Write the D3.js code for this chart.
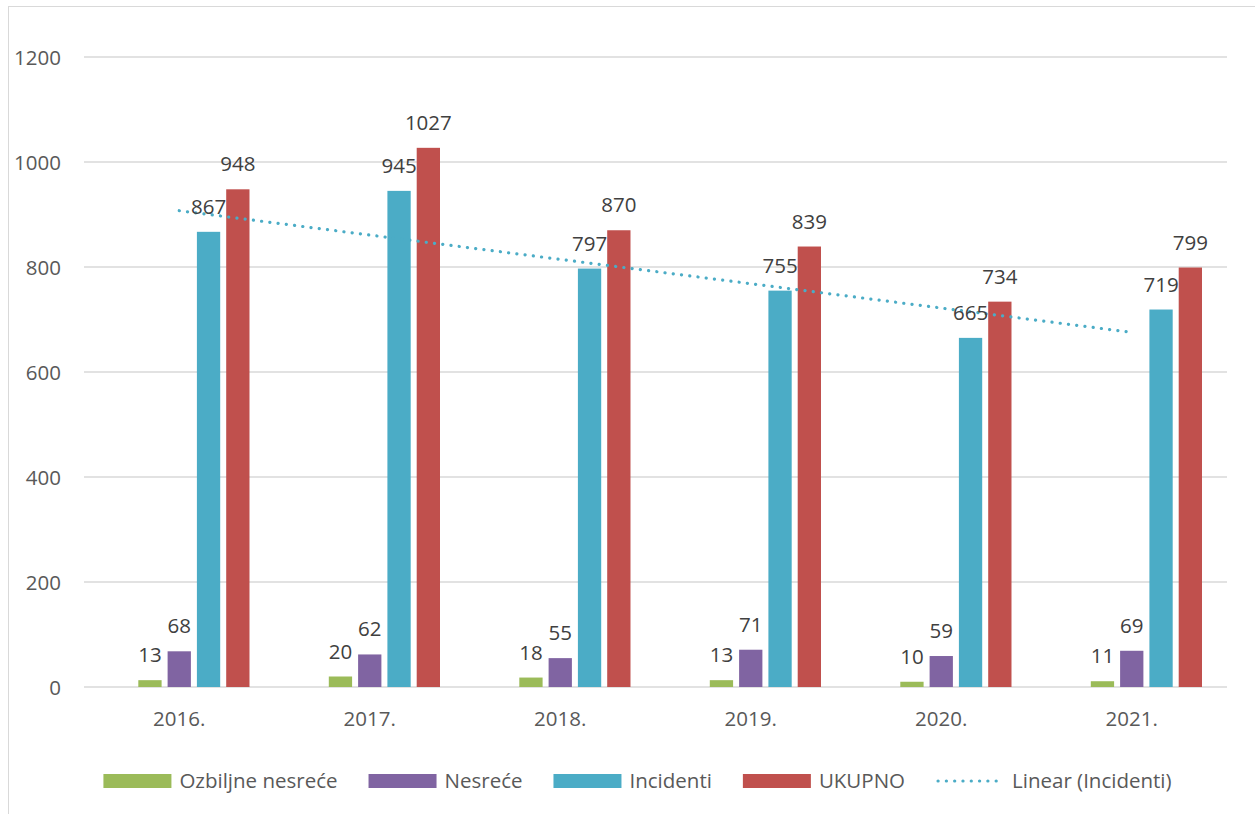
<!DOCTYPE html>
<html>
<head>
<meta charset="utf-8">
<script src="https://cdn.jsdelivr.net/npm/d3@7/dist/d3.min.js"></script>
<style>
  html, body { margin: 0; padding: 0; background: #ffffff; }
  svg { display: block; }
  text { font-family: "Open Sans", "Noto Sans", sans-serif; }
</style>
</head>
<body>
<svg id="chart" width="1255" height="814"></svg>
<script>
// ---- data ----
const categories = ["2016.", "2017.", "2018.", "2019.", "2020.", "2021."];
const seriesNames = ["Ozbiljne nesreće", "Nesreće", "Incidenti", "UKUPNO"];
const ozbiljneNesrece = [13, 20, 18, 13, 10, 11];
const nesrece = [68, 62, 55, 71, 59, 69];
const incidenti = [867, 945, 797, 755, 665, 719];
const ukupno = [948, 1027, 870, 839, 734, 799];
const yTicks = [0, 200, 400, 600, 800, 1000, 1200];
const trendName = "Linear (Incidenti)";

const seriesValues = [ozbiljneNesrece, nesrece, incidenti, ukupno];
const colors = ["#9BBB59", "#8064A2", "#4BACC6", "#C0504D"];

const svg = d3.select("#chart");
const W = 1255, H = 814;
const plot = { left: 84, right: 1227, top: 57, bottom: 687 };

// chart frame (only top/left edges fall inside the picture)
svg.append("rect")
  .attr("x", 8.5).attr("y", 6.5)
  .attr("width", W + 20).attr("height", H + 20)
  .attr("fill", "none").attr("stroke", "#d9d9d9").attr("stroke-width", 1);

const x0 = d3.scaleBand().domain(categories).range([plot.left, plot.right]).padding(0);
// five slots per category; the first one is empty
const slots = ["", ...seriesNames];
const groupW = x0.bandwidth() * 0.769;
const x1 = d3.scaleBand().domain(slots)
  .range([-groupW / 2, groupW / 2])
  .paddingInner(0.205).paddingOuter(0.1025);

const y = d3.scaleLinear().domain([0, 1200]).range([plot.bottom, plot.top]);

// gridlines
svg.append("g").selectAll("line").data(yTicks).join("line")
  .attr("x1", plot.left).attr("x2", plot.right)
  .attr("y1", d => y(d)).attr("y2", d => y(d))
  .attr("stroke", "#d9d9d9").attr("stroke-width", 1.3);

// y axis labels
svg.append("g").selectAll("text").data(yTicks).join("text")
  .attr("x", 61).attr("y", d => y(d) + 8)
  .attr("text-anchor", "end")
  .attr("font-size", 20.5).attr("fill", "#595959")
  .text(d => d);

// x axis labels
svg.append("g").selectAll("text").data(categories).join("text")
  .attr("x", d => x0(d) + x0.bandwidth() / 2)
  .attr("y", 726)
  .attr("text-anchor", "middle")
  .attr("font-size", 20.5).attr("fill", "#595959")
  .text(d => d);

// bars
const barData = [];
seriesNames.forEach((s, si) => {
  categories.forEach((c, ci) => {
    barData.push({ s, si, c, v: seriesValues[si][ci] });
  });
});
const cx = d => x0(d.c) + x0.bandwidth() / 2 + x1(d.s);

svg.append("g").selectAll("rect").data(barData).join("rect")
  .attr("x", cx)
  .attr("y", d => y(d.v))
  .attr("width", x1.bandwidth())
  .attr("height", d => y(0) - y(d.v))
  .attr("fill", d => colors[d.si]);

// trendline (least squares on Incidenti)
const n = incidenti.length;
const xs = d3.range(1, n + 1);
const mx = d3.mean(xs), my = d3.mean(incidenti);
const slope = d3.sum(xs, (xv, i) => (xv - mx) * (incidenti[i] - my)) / d3.sum(xs, xv => (xv - mx) ** 2);
const icpt = my - slope * mx;
const trendPts = [xs[0], xs[n - 1]].map(xv => ({ c: categories[xv - 1], v: icpt + slope * xv }));
svg.append("line")
  .attr("x1", x0(trendPts[0].c) + x0.bandwidth() / 2)
  .attr("y1", y(trendPts[0].v))
  .attr("x2", x0(trendPts[1].c) + x0.bandwidth() / 2)
  .attr("y2", y(trendPts[1].v))
  .attr("stroke", "#4BACC6").attr("stroke-width", 3.2)
  .attr("stroke-linecap", "round").attr("stroke-dasharray", "0.1 8.2");

// data labels
svg.append("g").selectAll("text").data(barData).join("text")
  .attr("x", d => cx(d) + x1.bandwidth() / 2)
  .attr("y", d => y(d.v) - 18)
  .attr("text-anchor", "middle")
  .attr("font-size", 20.5).attr("fill", "#404040")
  .text(d => d.v);

// legend
const legend = svg.append("g");
const items = seriesNames.map((s, i) => ({ name: s, color: colors[i], type: "rect" }))
  .concat([{ name: trendName, color: "#4BACC6", type: "line" }]);
const swW = 68, gapText = 8, gapItem = 31, legY = 781;
let cursor = 0;
const placed = [];
items.forEach(it => {
  const t = legend.append("text").attr("font-size", 20.5).attr("fill", "#595959").text(it.name);
  const tw = t.node().getComputedTextLength();
  placed.push({ it, t, start: cursor, tw });
  cursor += swW + gapText + tw + gapItem;
});
const total = cursor - gapItem;
const legStart = 637.5 - total / 2;
placed.forEach(p => {
  const sx = legStart + p.start;
  if (p.it.type === "rect") {
    legend.append("rect").attr("x", sx).attr("y", legY - 7).attr("width", swW).attr("height", 14)
      .attr("fill", p.it.color);
  } else {
    legend.append("line").attr("x1", sx + 2).attr("x2", sx + swW)
      .attr("y1", legY).attr("y2", legY)
      .attr("stroke", p.it.color).attr("stroke-width", 3.2)
      .attr("stroke-linecap", "round").attr("stroke-dasharray", "0.1 8.2");
  }
  p.t.attr("x", sx + swW + gapText).attr("y", legY + 7);
});
</script>
</body>
</html>
